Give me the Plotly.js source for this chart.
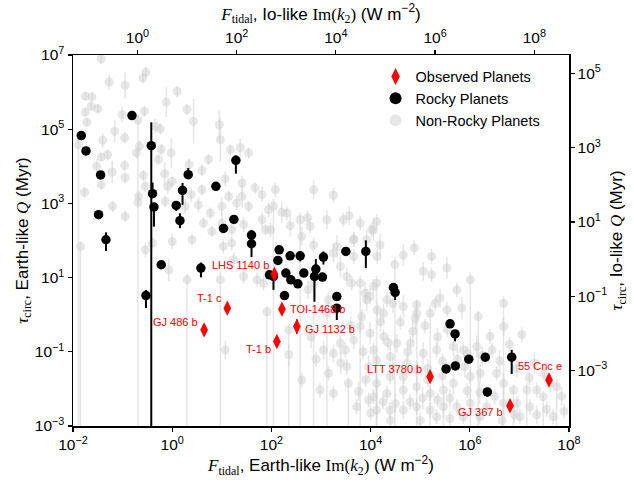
<!DOCTYPE html>
<html><head><meta charset="utf-8">
<script src="https://cdn.plot.ly/plotly-3.0.1.min.js"></script>
<style>html,body{margin:0;padding:0;background:#fff}#chart{width:634px;height:485px}</style>
</head><body><div id="chart"></div>
<script>
// ---------- DATA (log10 of values) ----------
// Non-rocky planets: log10 F_tidal (Earth-like), log10 tau_circ (Earth-like), symmetric error (dex)
const nonRockyLogF = [
 -1.43,-0.53,-0.59,-1.27,-0.95,-1.75,-1.62,0.10,-0.12,-1.63,
 -1.50,-1.75,-1.01,-0.56,0.30,-1.72,0.43,-0.34,-0.24,-1.16,
 0.95,-1.40,-0.96,-0.66,-0.22,1.37,1.17,-1.43,-1.30,-0.72,
 -0.02,1.54,0.97,-1.52,-1.21,-0.96,-0.28,0.34,0.73,1.07,
 0.60,1.41,-0.95,-1.43,-0.58,-0.15,0.00,-1.77,-0.68,-0.54,
 -0.09,-0.14,0.38,0.60,1.14,1.41,1.67,1.81,-1.20,-0.95,
 -0.69,0.26,0.53,0.77,1.00,1.30,1.54,1.94,0.63,1.00,
 1.20,1.44,1.81,1.88,0.80,0.40,0.00,-0.40,1.20,
 2.31,3.12,3.45,3.79,4.06,3.92,3.66,3.32,4.13,3.39,
 3.52,4.06,3.92,4.13,3.99,3.79,3.66,3.39,3.52,3.25,
 1.44,1.84,-0.07,-0.54,1.03,1.24,1.71,1.07,2.35,2.61,
 2.98,3.25,3.76,3.96,3.72,3.15,3.96,2.74,3.15,3.62,
 3.89,3.49,3.82,
 2.08,2.85,3.25,2.21,2.73,3.57,4.12,4.02,2.38,2.78,
 3.66,2.61,1.98,4.19,4.88,3.25,3.66,2.85,
 4.66,5.23,5.06,5.23,5.54,5.74,5.40,4.66,3.99,4.33,
 4.26,4.93,5.54,5.84,7.05,6.68,6.41,6.14,5.87,5.67,
 5.33,5.06,4.80,4.53,4.26,4.06,4.39,4.73,4.93,4.66,
 4.39,4.12,4.06,4.33,4.66,4.93,5.20,5.67,6.01,6.21,
 6.54,6.68,7.35,7.62,7.21,6.95,6.68,6.34,6.01,5.74,
 5.47,5.20,4.93,4.66,4.39,4.12,7.01,7.68,5.87,5.33,
 4.45,4.60,4.85,5.10,5.35,5.55,5.75,5.95,6.25,6.45,
 6.60,6.80,6.95,7.20,7.30,7.50,7.85,7.90,7.55,7.35,
 6.50,6.20,5.95,5.60,5.35,5.05,4.80,4.50,4.25,4.45,
 4.75,5.15,5.45,5.90,5.15,5.45,4.90,5.30,4.20,4.35,
 3.90,4.00,4.40,5.00,5.60,6.20,6.65,6.90,2.80,3.05,
 2.90,3.40,3.60,3.85
];
const nonRockyLogTau = [
 6.90,6.54,6.38,6.27,6.18,5.89,5.87,6.02,5.73,5.62,
 5.55,5.46,5.39,5.48,5.53,5.19,5.21,5.08,5.01,4.94,
 5.12,4.70,4.77,4.54,4.45,4.50,4.45,4.25,4.31,4.36,
 4.36,4.36,4.72,4.00,3.84,4.02,4.18,4.05,4.18,3.66,
 3.89,3.55,3.69,3.50,3.75,3.80,3.59,3.30,3.19,3.46,
 3.46,3.05,3.24,3.37,3.19,3.19,3.42,3.24,2.92,2.65,
 3.03,2.92,2.96,2.74,2.92,3.01,2.92,2.83,2.47,2.47,
 2.29,2.43,2.56,2.29,2.24,2.02,1.97,1.93,1.93,
 2.74,2.56,2.56,2.47,2.29,2.02,2.02,1.84,1.57,1.30,
 1.03,0.76,0.40,0.13,-0.50,-0.32,-0.68,-0.77,-1.40,-1.04,
 1.03,0.85,1.21,1.75,1.84,1.48,0.94,-0.95,-1.08,-1.76,
 -2.03,-2.12,-2.07,-2.30,-2.48,-1.58,-1.40,0.67,0.40,0.85,
 0.58,-0.95,-0.05,
 3.37,3.37,3.22,2.76,2.61,2.67,2.51,2.29,2.40,2.38,
 2.04,2.11,2.29,1.88,1.80,1.66,1.57,1.88,
 1.61,1.57,1.17,1.08,1.26,0.67,0.45,0.22,0.49,0.40,
 0.04,0.04,0.13,0.18,-0.54,-0.32,-0.59,-0.86,-0.95,-0.86,
 -0.95,-1.04,-0.77,-0.77,-0.59,-0.95,-1.13,-1.31,-1.49,-1.67,
 -1.67,-1.85,-2.21,-2.12,-2.03,-1.94,-2.12,-1.85,-1.67,-1.58,
 -1.58,-1.85,-2.03,-1.85,-2.48,-2.39,-2.39,-2.48,-2.39,-2.48,
 -2.48,-2.57,-2.48,-2.57,-2.57,-2.57,-2.75,-2.75,-2.75,-2.75,
 0.30,-0.20,-0.45,-0.30,-0.60,-0.40,-1.20,-1.05,-1.10,-0.95,
 -1.25,-0.80,-1.45,-1.70,-1.30,-1.60,-2.20,-2.60,-2.55,-2.70,
 -2.20,-2.10,-2.05,-2.25,-2.30,-2.25,-2.35,-2.40,-2.35,-1.45,
 -1.00,-1.45,-1.25,-1.40,-1.75,-1.65,-0.10,0.30,-0.20,-0.75,
 -1.75,-2.65,-2.85,-2.85,-2.80,-2.75,-2.85,-2.70,-0.60,-0.95,
 -1.20,-1.30,-0.30,-1.00
];
const nonRockyErrDex = [
 .15,.12,.15,.2,.35,.12,.12,.15,.4,.12,
 .12,.12,.2,.15,.15,.12,.6,.2,.15,.3,
 .4,.2,.15,.15,.15,.25,.15,.12,.15,.15,
 .4,.15,.6,.2,.3,.15,.15,.15,.15,.2,
 .15,.2,.15,.12,.15,.3,.15,.15,.15,.15,
 .2,.15,.2,.15,.15,.3,.15,.2,.15,.15,
 .15,.2,.2,.15,.25,.2,.15,.2,.15,.3,
 .15,.2,.2,.15,.15,.15,.2,.15,.2,
 .2,.25,.2,.2,.3,.25,.2,.3,.2,.3,
 .25,.2,.3,.2,.3,.2,.25,.3,.2,.25,
 .2,.2,.3,.2,.2,.2,.2,.25,.3,.2,
 .2,.2,.25,.2,.2,.2,.3,.25,.2,.2,
 .3,.2,.2,
 .2,.25,.2,.3,.2,.25,.2,.2,.3,.2,
 .2,.25,.2,.3,.2,.25,.2,.2,
 .3,.2,.25,.2,.3,.2,.25,.3,.2,.2,
 .25,.3,.2,.3,.2,.25,.2,.3,.2,.25,
 .2,.3,.2,.25,.2,.2,.3,.2,.25,.2,
 .2,.3,.2,.2,.25,.2,.2,.3,.2,.25,
 .2,.3,.2,.25,.2,.2,.3,.2,.25,.2,
 .3,.2,.2,.25,.2,.2,.2,.2,.2,.2,
 .25,.2,.3,.2,.25,.2,.3,.2,.25,.2,
 .3,.2,.25,.2,.3,.2,.25,.2,.2,.25,
 .2,.3,.2,.25,.2,.3,.2,.25,.2,.3,
 .2,.25,.2,.3,.2,.25,.3,.2,.25,.2,
 .2,.2,.2,.2,.2,.2,.2,.2,.3,.25,
 .2,.3,.25,.2
];
// Non-rocky planets whose lower error bar runs off the bottom of the axis
const nonRockyOpenLogF = [-1.89,-0.69,-1.85,0.97,0.30,2.04,2.58,2.85,3.12,2.35,3.55,3.79,1.91,
  4.49,4.93,5.20,5.47,6.01,6.17,6.68,6.88,7.15,7.48,7.75,4.12,4.12];
const nonRockyOpenLogTau = [4.58,5.24,1.84,0.94,0.94,2.92,2.56,0.85,0.04,-0.41,-1.85,0.85,0.08,
  1.35,0.27,0.04,-2.03,0.94,-0.05,0.31,-2.03,-2.03,-2.21,-1.94,-1.22,0.85];
const nonRockyOpenUpDex = [.15,.15,.15,.2,.15,.2,.2,.15,.2,.15,.15,.2,.15,
  .2,.15,.2,.15,.2,.15,.2,.15,.2,.15,.2,.15,.2];
const openLowerEnd = 1e-5;

// Rocky planets
const rockyLogF = [
 -0.811,-1.833,-1.738,-0.422,-0.396,-0.368,-1.444,-1.484,-1.335,0.323,
 0.208,0.081,0.156,0.881,1.284,1.244,1.034,1.599,1.599,-0.529,
 -0.221,0.579,2.157,2.378,2.580,3.049,3.501,3.904,2.131,1.961,
 2.042,2.292,2.392,2.534,2.654,2.896,2.868,3.029,2.264,3.319,
 3.319,4.460,4.494,5.602,5.703,5.979,6.313,6.845,5.522,5.709,
 6.354];
const rockyLogTau = [
 5.367,4.827,4.414,4.557,3.262,2.903,3.767,2.695,2.020,3.775,
 3.351,2.946,2.533,3.459,4.161,2.568,2.325,2.147,1.912,0.517,
 1.346,1.256,1.750,1.588,1.588,1.553,1.704,1.704,1.462,1.076,
 1.030,1.121,0.941,0.833,1.121,1.229,1.030,1.013,0.517,0.490,
 0.177,0.733,0.598,-0.247,-0.517,-1.200,-1.146,-1.146,-1.462,-1.381,
 -2.082];
const rockyUpDex = [
 .05,.05,.05,.63,.3,.1,.05,.05,.2,.18,
 .2,.05,.2,.05,.13,.05,.05,.14,.05,.15,
 .05,.15,.05,.05,.1,.15,.05,.3,.05,.05,
 .05,.05,.05,.05,.05,.27,.05,.05,.1,.05,
 .05,.05,.05,.05,.05,.05,.05,.2,.05,.05,
 .05];
const rockyDownDex = [
 .05,.05,.05,9,.1,.53,.05,.05,.3,.05,
 .39,.15,.2,.05,.36,.05,.05,.05,.36,.34,
 .05,.25,.05,.05,.15,.2,.05,.45,.05,.05,
 .36,.05,.05,.05,.05,.05,.68,.05,.05,.05,
 .32,.05,.2,.05,.2,.05,.05,.45,.05,.05,
 .13];

// Observed planets (data units)
const obsNames = ['LHS 1140 b','T-1 c','GJ 486 b','TOI-1468 b','GJ 1132 b','T-1 b','LTT 3780 b','55 Cnc e','GJ 367 b'];
const obsF   = [115, 12.9, 4.4, 163, 326, 129, 1.58e5, 3.95e7, 6.47e6];
const obsTau = [12.4, 1.50, 0.39, 1.41, 0.48, 0.19, 0.0214, 0.0175, 0.00353];
const obsErrDex = [0.12,0.1,0.1,0.1,0.2,0.1,0.1,0.1,0.12];
// label placement (style): [xanchor, xshift px, yshift px]
const obsLabelPos = [['right',-3,9],['right',-3,10],['right',-4,8],['left',6,0],['left',6,-2],
  ['right',-4,-8],['right',-6,8],['center',-9,14],['right',-5,-6]];

// Ticks
const xTickVals = [1e-2,1,1e2,1e4,1e6,1e8];
const xTickText = ['10<sup>−2</sup>','10<sup>0</sup>','10<sup>2</sup>','10<sup>4</sup>','10<sup>6</sup>','10<sup>8</sup>'];
const yTickVals = [1e-3,1e-1,1e1,1e3,1e5,1e7];
const yTickText = ['10<sup>−3</sup>','10<sup>−1</sup>','10<sup>1</sup>','10<sup>3</sup>','10<sup>5</sup>','10<sup>7</sup>'];
const x2TickVals = [1,1e2,1e4,1e6,1e8];
const x2TickText = ['10<sup>0</sup>','10<sup>2</sup>','10<sup>4</sup>','10<sup>6</sup>','10<sup>8</sup>'];
const y2TickVals = [1e-3,1e-1,1e1,1e3,1e5];
const y2TickText = ['10<sup>−3</sup>','10<sup>−1</sup>','10<sup>1</sup>','10<sup>3</sup>','10<sup>5</sup>'];

// ---------- helpers ----------
const p10 = a => a.map(v => Math.pow(10, v));
const plusFrom = (vals, dex) => vals.map((v,i) => v*(Math.pow(10, dex[i]) - 1));
const minusFrom = (vals, dex) => vals.map((v,i) => v*(1 - Math.pow(10, -dex[i])));

const grayF = p10(nonRockyLogF).concat(p10(nonRockyOpenLogF));
const grayT = p10(nonRockyLogTau).concat(p10(nonRockyOpenLogTau));
const gPlus = plusFrom(p10(nonRockyLogTau), nonRockyErrDex).concat(plusFrom(p10(nonRockyOpenLogTau), nonRockyOpenUpDex));
const gMinus = minusFrom(p10(nonRockyLogTau), nonRockyErrDex).concat(p10(nonRockyOpenLogTau).map(v => v - openLowerEnd));

const rF = p10(rockyLogF), rT = p10(rockyLogTau);

const GRAY = 'rgba(208,208,208,0.5)';
const SERIF = "font-family:'Liberation Serif',serif";

const traces = [
 {type:'scatter', mode:'markers', name:'Non-Rocky Planets', x:grayF, y:grayT,
  marker:{color:GRAY, size:9, line:{width:0}},
  error_y:{type:'data', symmetric:false, array:gPlus, arrayminus:gMinus, color:GRAY, thickness:1.6, width:0},
  hoverinfo:'skip'},
 {type:'scatter', mode:'markers', name:'Rocky Planets', x:rF, y:rT,
  marker:{color:'#000', size:9.5, line:{width:0}},
  error_y:{type:'data', symmetric:false, array:plusFrom(rT, rockyUpDex), arrayminus:minusFrom(rT, rockyDownDex), color:'#000', thickness:2, width:0},
  hoverinfo:'skip'},
 {type:'scatter', mode:'markers', name:'Observed Planets', x:obsF, y:obsTau,
  marker:{color:'#ff0000', size:11, symbol:'diamond-tall', line:{width:0}},
  error_y:{type:'data', symmetric:false, array:plusFrom(obsTau, obsErrDex), arrayminus:minusFrom(obsTau, obsErrDex), color:'#ff0000', thickness:1.5, width:0},
  hoverinfo:'skip'},
 {type:'scatter', x:[], y:[], xaxis:'x2', yaxis:'y2', showlegend:false, hoverinfo:'skip'}
];

const annotations = obsNames.map((n,i) => ({
  x: Math.log10(obsF[i]), y: Math.log10(obsTau[i]), xref:'x', yref:'y',
  text: n, showarrow:false, xanchor: obsLabelPos[i][0], yanchor:'middle',
  xshift: obsLabelPos[i][1], yshift: obsLabelPos[i][2],
  font:{color:'#ff0000', size:11, family:'Liberation Sans, Arial, sans-serif'}
}));

const axisBase = {type:'log', showgrid:false, zeroline:false, showline:true, linecolor:'#000', linewidth:1.5,
  ticks:'outside', ticklen:4, tickwidth:1.2, tickcolor:'#000', tickfont:{size:15.5, color:'#000'}, tickmode:'array'};

const layout = {
  width:634, height:485, margin:{l:73, r:65, t:55, b:59},
  paper_bgcolor:'#fff', plot_bgcolor:'#fff',
  font:{family:'Liberation Sans, Arial, sans-serif', color:'#000', size:14.5},
  showlegend:true,
  legend:{x:0.61, y:0.985, xanchor:'left', yanchor:'top', traceorder:'reversed', bgcolor:'rgba(255,255,255,0)',
          font:{size:14.5}, itemsizing:'constant', tracegroupgap:0},
  xaxis: Object.assign({}, axisBase, {range:[-2,8], tickvals:xTickVals, ticktext:xTickText, side:'bottom',
    title:{text:'<span style="'+SERIF+'"><i>F</i><sub>tidal</sub></span>, Earth-like <span style="'+SERIF+'">Im(<i>k</i><sub>2</sub>)</span> (W m<sup>−2</sup>)', font:{size:17}, standoff:4}}),
  yaxis: Object.assign({}, axisBase, {range:[-3,7], tickvals:yTickVals, ticktext:yTickText, side:'left',
    title:{text:'<span style="'+SERIF+'"><i>τ</i><sub>circ</sub></span>, Earth-like <span style="'+SERIF+'"><i>Q</i></span> (Myr)', font:{size:17}, standoff:2}}),
  xaxis2: Object.assign({}, axisBase, {range:[-1.30,8.70], tickvals:x2TickVals, ticktext:x2TickText, side:'top', overlaying:'x', anchor:'y',
    title:{text:'<span style="'+SERIF+'"><i>F</i><sub>tidal</sub></span>, Io-like <span style="'+SERIF+'">Im(<i>k</i><sub>2</sub>)</span> (W m<sup>−2</sup>)', font:{size:17}, standoff:2}}),
  yaxis2: Object.assign({}, axisBase, {range:[-4.5,5.5], tickvals:y2TickVals, ticktext:y2TickText, side:'right', overlaying:'y', anchor:'x',
    title:{text:'<span style="'+SERIF+'"><i>τ</i><sub>circ</sub></span>, Io-like <span style="'+SERIF+'"><i>Q</i></span> (Myr)', font:{size:17}, standoff:4}}),
  annotations: annotations
};

Plotly.newPlot('chart', traces, layout, {displayModeBar:false, staticPlot:true});
</script>
</body></html>
